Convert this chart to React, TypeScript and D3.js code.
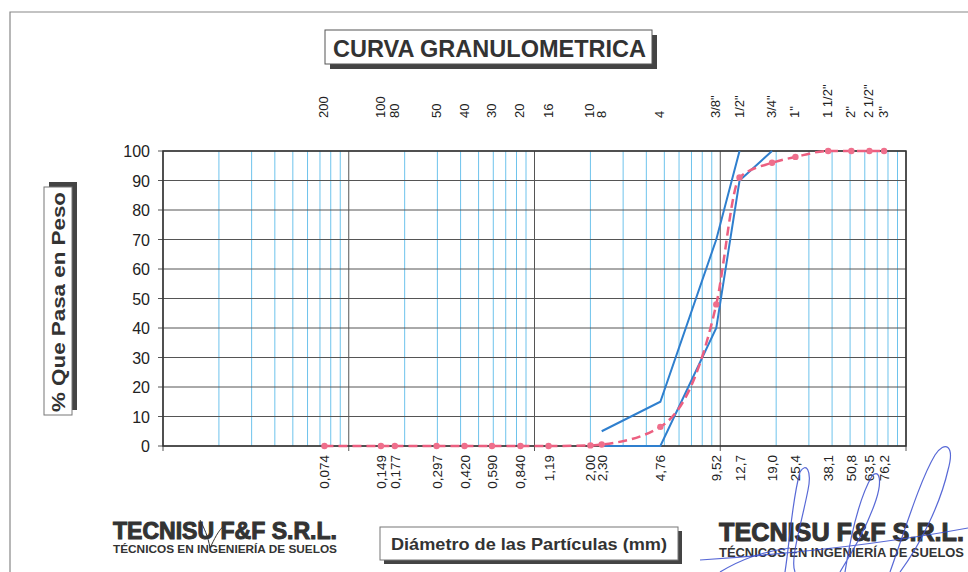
import React, { useEffect, useRef } from 'react';
import * as d3 from 'd3';

// sieve sizes (mm) with their names
const sieveSizes = [0.074, 0.149, 0.177, 0.297, 0.42, 0.59, 0.84, 1.19, 2.0, 2.3, 4.76, 9.52, 12.7, 19.0, 25.4, 38.1, 50.8, 63.5, 76.2];
const sieveNames = ['200', '100', '80', '50', '40', '30', '20', '16', '10', '8', '4', '3/8"', '1/2"', '3/4"', '1"', '1 1/2"', '2"', '2 1/2"', '3"'];
const sizeLabels = ['0,074', '0,149', '0,177', '0,297', '0,420', '0,590', '0,840', '1,19', '2,00', '2,30', '4,76', '9,52', '12,7', '19,0', '25,4', '38,1', '50,8', '63,5', '76,2'];

// sample: % passing
const samplePassing = [0, 0, 0, 0, 0, 0, 0, 0, 0.2, 0.5, 6.5, 48, 91, 96, 98, 100, 100, 100, 100];

// specification envelope
const upperSizes = [2.3, 4.76, 9.52, 12.7];
const upperPassing = [5, 15, 70, 100];
const lowerSizes = [2.3, 4.76, 9.52, 12.7, 19.0];
const lowerPassing = [0, 0, 40, 90, 100];

const yTicks = [0, 10, 20, 30, 40, 50, 60, 70, 80, 90, 100];

const App: React.FC = () => {
  const ref = useRef<SVGSVGElement>(null);

  useEffect(() => {
    if (!ref.current) return;
    const svg = d3.select(ref.current);
    svg.selectAll('*').remove();

    const left = 163, right = 906, top = 151, bottom = 446;
    const font = '"Liberation Sans", Arial, sans-serif';

    const x = d3.scaleLog().domain([0.01, 100]).range([left, right]);
    const y = d3.scaleLinear().domain([0, 100]).range([bottom, top]);

    // outer page frame
    svg.append('path')
      .attr('d', `M10,572 L10,12 L968,12`)
      .attr('fill', 'none')
      .attr('stroke', '#888')
      .attr('stroke-width', 1.2);

    // title box
    const tg = svg.append('g');
    tg.append('rect').attr('x', 330).attr('y', 35).attr('width', 327).attr('height', 34).attr('fill', '#444');
    tg.append('rect').attr('x', 325).attr('y', 30).attr('width', 327).attr('height', 34)
      .attr('fill', '#fff').attr('stroke', '#555').attr('stroke-width', 1);
    tg.append('text').attr('x', 333).attr('y', 57)
      .attr('font-family', font).attr('font-weight', 'bold').attr('font-size', 24)
      .attr('fill', '#333').attr('textLength', 313).attr('lengthAdjust', 'spacingAndGlyphs')
      .text('CURVA GRANULOMETRICA');

    // minor log grid (blue)
    const minor: number[] = [];
    for (let e = -2; e < 2; e++) {
      for (let m = 2; m <= 9; m++) minor.push(m * Math.pow(10, e));
    }
    svg.append('g').selectAll('line').data(minor).join('line')
      .attr('x1', d => x(d)).attr('x2', d => x(d))
      .attr('y1', top).attr('y2', bottom)
      .attr('stroke', '#6ec3ec').attr('stroke-width', 1);

    // horizontal grid
    svg.append('g').selectAll('line').data(yTicks).join('line')
      .attr('x1', left - 5).attr('x2', right)
      .attr('y1', d => y(d)).attr('y2', d => y(d))
      .attr('stroke', '#555').attr('stroke-width', 1);

    // decade lines
    const decades = [0.01, 0.1, 1, 10, 100];
    svg.append('g').selectAll('line').data(decades).join('line')
      .attr('x1', d => x(d)).attr('x2', d => x(d))
      .attr('y1', top).attr('y2', bottom + 5)
      .attr('stroke', '#555').attr('stroke-width', 1);

    // frame
    svg.append('rect')
      .attr('x', left).attr('y', top).attr('width', right - left).attr('height', bottom - top)
      .attr('fill', 'none').attr('stroke', '#333').attr('stroke-width', 1.5);

    // y tick labels
    svg.append('g').selectAll('text').data(yTicks).join('text')
      .attr('x', 150).attr('y', d => y(d) + 6)
      .attr('text-anchor', 'end')
      .attr('font-family', font).attr('font-size', 16).attr('fill', '#222')
      .text(d => d);

    // sieve names (top)
    svg.append('g').selectAll('text').data(sieveSizes).join('text')
      .attr('transform', d => `translate(${x(d) + 4},118) rotate(-90)`)
      .attr('text-anchor', 'start')
      .attr('font-family', font).attr('font-size', 13).attr('fill', '#222')
      .text((d, i) => sieveNames[i]);

    // size labels (bottom)
    svg.append('g').selectAll('text').data(sieveSizes).join('text')
      .attr('transform', d => `translate(${x(d) + 5},455) rotate(-90)`)
      .attr('text-anchor', 'end')
      .attr('font-family', font).attr('font-size', 13.5).attr('fill', '#222')
      .text((d, i) => sizeLabels[i]);

    // envelope lines
    const env = d3.line<[number, number]>().x(d => x(d[0])).y(d => y(d[1]));
    svg.append('path')
      .attr('d', env(upperSizes.map((s, i) => [s, upperPassing[i]]) as [number, number][]))
      .attr('fill', 'none').attr('stroke', '#2f7fce').attr('stroke-width', 2);
    svg.append('path')
      .attr('d', env(lowerSizes.map((s, i) => [s, lowerPassing[i]]) as [number, number][]))
      .attr('fill', 'none').attr('stroke', '#2f7fce').attr('stroke-width', 2);

    // sample curve
    const pts = sieveSizes.map((s, i) => [s, samplePassing[i]] as [number, number]);
    const curve = d3.line<[number, number]>().x(d => x(d[0])).y(d => y(d[1])).curve(d3.curveMonotoneX);
    svg.append('path')
      .attr('d', curve(pts))
      .attr('fill', 'none').attr('stroke', '#ec5f80').attr('stroke-width', 2.5)
      .attr('stroke-dasharray', '9,5');
    svg.append('g').selectAll('circle').data(pts).join('circle')
      .attr('cx', d => x(d[0])).attr('cy', d => y(d[1])).attr('r', 3.2)
      .attr('fill', '#ef6f8c');

    // y axis title box
    const yg = svg.append('g');
    yg.append('rect').attr('x', 49).attr('y', 182).attr('width', 28).attr('height', 228).attr('fill', '#444');
    yg.append('rect').attr('x', 44).attr('y', 187).attr('width', 28).attr('height', 228)
      .attr('fill', '#fff').attr('stroke', '#777').attr('stroke-width', 1);
    yg.append('text')
      .attr('transform', 'translate(65,412) rotate(-90)')
      .attr('font-family', font).attr('font-weight', 'bold').attr('font-size', 18)
      .attr('fill', '#333').attr('textLength', 220).attr('lengthAdjust', 'spacingAndGlyphs')
      .text('% Que Pasa en Peso');

    // x axis title box
    const xg = svg.append('g');
    xg.append('rect').attr('x', 384).attr('y', 531).attr('width', 298).attr('height', 33).attr('fill', '#444');
    xg.append('rect').attr('x', 380).attr('y', 527).attr('width', 298).attr('height', 33)
      .attr('fill', '#fff').attr('stroke', '#777').attr('stroke-width', 1);
    xg.append('text').attr('x', 391).attr('y', 550)
      .attr('font-family', font).attr('font-weight', 'bold').attr('font-size', 17)
      .attr('fill', '#333').attr('textLength', 276).attr('lengthAdjust', 'spacingAndGlyphs')
      .text('Diámetro de las Partículas (mm)');

    // company stamps
    const stamp = (x0: number, w: number, y0: number, h1: number, h2: number) => {
      svg.append('text').attr('x', x0).attr('y', y0)
        .attr('font-family', font).attr('font-weight', 'bold').attr('font-size', h1)
        .attr('fill', '#333').attr('stroke', '#333').attr('stroke-width', 1)
        .attr('textLength', w).attr('lengthAdjust', 'spacingAndGlyphs')
        .text('TECNISU F&F S.R.L.');
      svg.append('text').attr('x', x0).attr('y', y0 + h2 + 3)
        .attr('font-family', font).attr('font-weight', 'bold').attr('font-size', h2)
        .attr('fill', '#333')
        .attr('textLength', w).attr('lengthAdjust', 'spacingAndGlyphs')
        .text('TÉCNICOS EN INGENIERÍA DE SUELOS');
    };
    stamp(113, 224, 539, 23, 11);
    stamp(719, 245, 541, 25, 13);

    // signature scribble
    const sig = svg.append('g').attr('fill', 'none').attr('stroke', '#3b4fd0').attr('stroke-width', 1.2).attr('opacity', 0.85);
    sig.append('path').attr('d', 'M785,572 C790,540 792,500 800,472 C806,462 812,470 808,490 C800,530 790,560 795,572');
    sig.append('path').attr('d', 'M845,572 C850,540 858,500 872,476 C880,468 882,482 876,500 C866,530 850,555 840,572');
    sig.append('path').attr('d', 'M890,572 C905,530 920,480 935,455 C945,440 955,445 948,470 C940,505 920,545 900,572');
    sig.append('path').attr('d', 'M700,560 C760,556 860,548 968,528');
    sig.append('path').attr('d', 'M720,572 C740,560 760,552 790,548');
    svg.append('path').attr('d', 'M200,520 C204,528 208,536 210,548 C214,540 218,530 226,524')
      .attr('fill', 'none').attr('stroke', '#333').attr('stroke-width', 1);
  }, []);

  return (
    <svg ref={ref} width={968} height={572}
      style={{ position: 'absolute', left: 0, top: 0, background: '#fff' }} />
  );
};

export default App;
